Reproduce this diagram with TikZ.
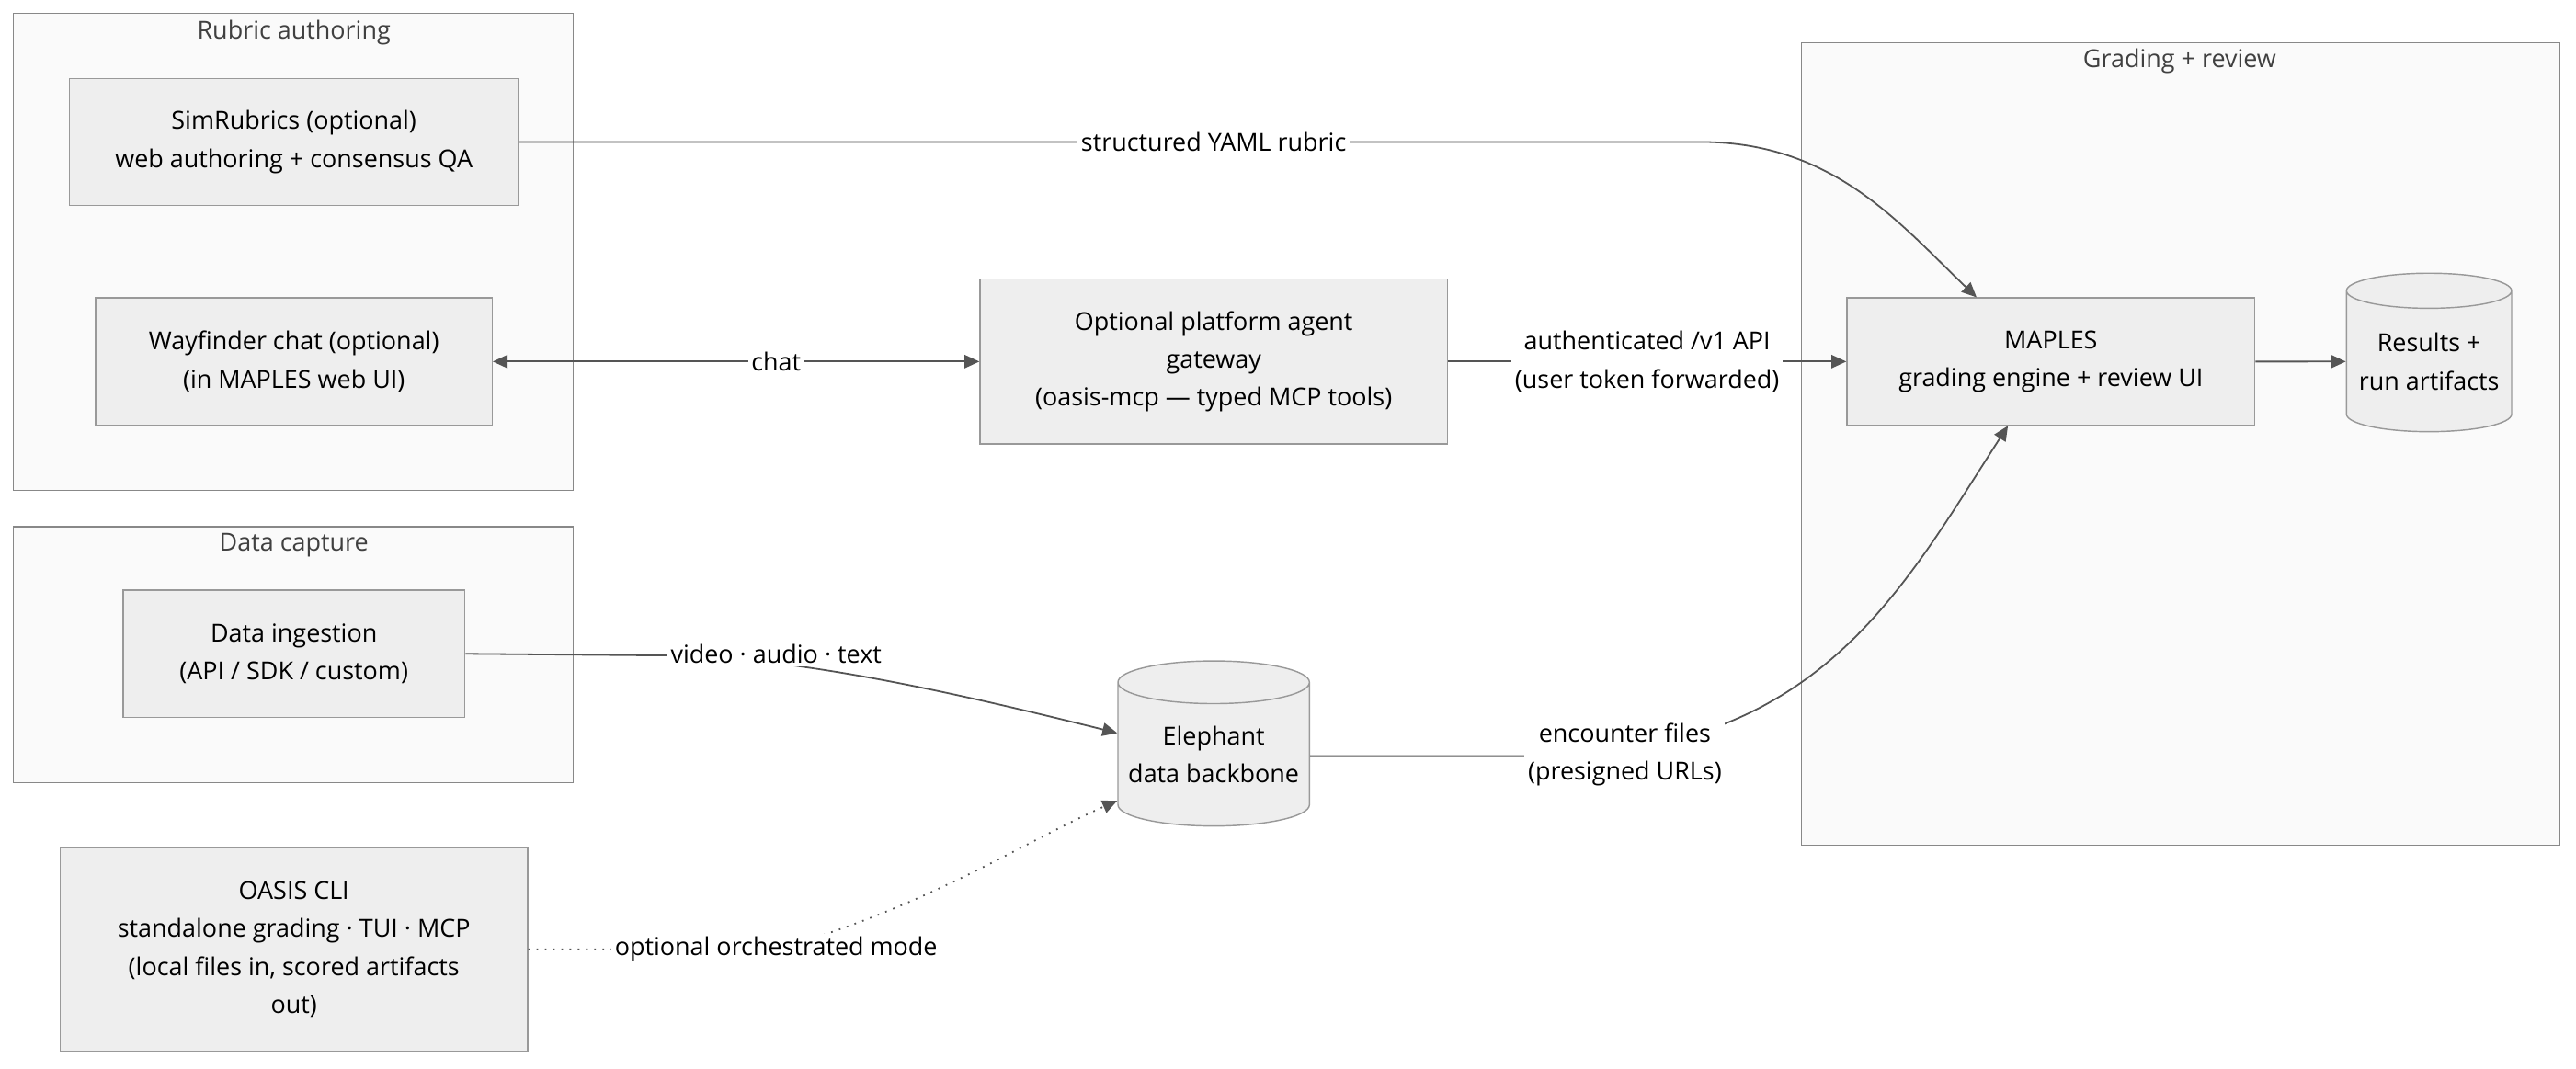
\documentclass[tikz,border=0pt]{standalone}
\usepackage{fontspec}
\setmainfont{Open Sans}
\usetikzlibrary{positioning, arrows.meta, shapes.geometric}
\definecolor{boxfill}{HTML}{EEEEEE}
\definecolor{boxline}{HTML}{999999}
\definecolor{grpfill}{HTML}{FAFAFA}
\definecolor{grpline}{HTML}{888888}
\definecolor{edge}{HTML}{555555}
\tikzset{
    box/.style={draw=boxline, fill=boxfill, align=center, inner sep=0pt, font=\fontsize{7.5}{11.5}\selectfont},
    can/.style={cylinder, shape border rotate=90, aspect=0.25, draw=boxline, fill=boxfill, align=center, inner sep=0pt, font=\fontsize{7.5}{11.5}\selectfont},
    grp/.style={draw=grpline, fill=grpfill},
    grptitle/.style={font=\fontsize{7.5}{9}\selectfont, text=black!75},
    flow/.style={draw=edge, line width=0.5pt, -{Triangle[length=4.5pt,width=4pt]}},
    lbl/.style={fill=white, inner sep=1pt, align=center, font=\fontsize{7.5}{11.5}\selectfont}
}
\begin{document}
\begin{tikzpicture}[x=0.5pt,y=0.5pt,yscale=-1]
        \useasboundingbox (0,0) rectangle (1560,647);
        % clusters
        \draw [grp] (8,8) rectangle (347,297);
        \draw [grp] (8,319) rectangle (347,474);
        \draw [grp] (1091,26) rectangle (1550,512);
        \node [grptitle] at (178,20) {Rubric authoring};
        \node [grptitle] at (178,330) {Data capture};
        \node [grptitle] at (1320,37) {Grading + review};
        % nodes
        \node [box, minimum width=136pt, minimum height=38.5pt] (simrub) at (178,86) {SimRubrics (optional)\\web authoring + consensus QA};
        \node [box, minimum width=120pt, minimum height=38.5pt] (wayfind) at (178,219) {Wayfinder chat (optional)\\(in MAPLES web UI)};
        \node [box, minimum width=103.5pt, minimum height=38.5pt] (ingest) at (178,396) {Data ingestion\\(API / SDK / custom)};
        \node [box, minimum width=141.5pt, minimum height=61.5pt] (cli) at (178,575) {OASIS CLI\\standalone grading · TUI · MCP\\(local files in, scored artifacts\\out)};
        \node [box, minimum width=141.5pt, minimum height=50pt] (agent) at (735,219) {Optional platform agent\\gateway\\(oasis-mcp — typed MCP tools)};
        \node [can, minimum width=58pt, minimum height=50pt] (elephant) at (735,457) {Elephant\\data backbone};
        \node [box, minimum width=123.5pt, minimum height=38.5pt] (maples) at (1242,219) {MAPLES\\grading engine + review UI};
        \node [can, minimum width=50pt, minimum height=48pt] (results) at (1471,219) {Results +\\run artifacts};
        % connectors
        \draw [flow] (simrub.east) -- (1030,86) .. controls (1110,86) and (1150,135) .. (maples.north west -| 1197,0);
        \node [lbl] at (735,86) {structured YAML rubric};
        \draw [flow, {Triangle[length=4.5pt,width=4pt]}-{Triangle[length=4.5pt,width=4pt]}] (wayfind) -- (agent);
        \node [lbl] at (470,219) {chat};
        \draw [flow] (agent) -- (maples) node [lbl, midway] {authenticated /v1 API\\(user token forwarded)};
        \draw [flow] (maples) -- (results);
        \draw [flow] (ingest.east) -- (400,397) .. controls (480,397) and (580,420) .. (elephant.west |- 0,444);
        \node [lbl] at (470,396) {video · audio · text};
        \draw [flow] (elephant.east |- 0,458) -- (930,458) .. controls (1100,458) and (1150,360) .. (maples.south -| 1216,0);
        \node [lbl] at (984,457) {encounter files\\(presigned URLs)};
        \draw [flow, dotted] (cli.east) -- (470,575) .. controls (560,550) and (620,510) .. (elephant.west |- 0,485);
        \node [lbl] at (470,575) {optional orchestrated mode};
\end{tikzpicture}
\end{document}
